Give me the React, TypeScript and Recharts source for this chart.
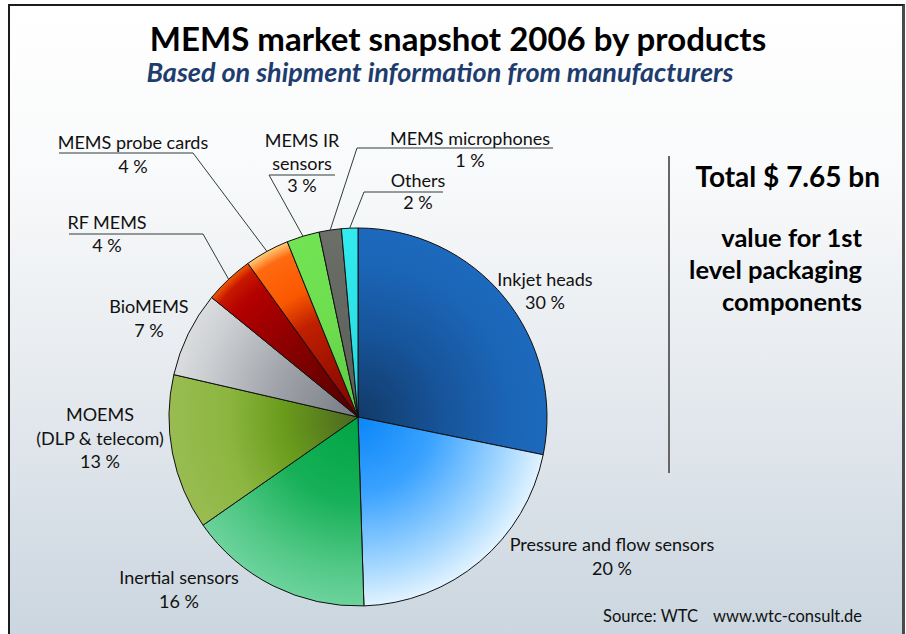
import { Cell, Pie, PieChart } from 'recharts'

const categories = [
  'Inkjet heads',
  'Pressure and flow sensors',
  'Inertial sensors',
  'MOEMS\n(DLP & telecom)',
  'BioMEMS',
  'RF MEMS',
  'MEMS probe cards',
  'MEMS IR\nsensors',
  'MEMS microphones',
  'Others',
]
// slice sizes as drawn in the picture (percent)
const shares = [28.2, 21.3, 15.8, 13.3, 7.3, 4.2, 3.8, 2.8, 1.9, 1.4]
const shareLabels = ['30 %', '20 %', '16 %', '13 %', '7 %', '4 %', '4 %', '3 %', '1 %', '2 %']

const data = categories.map((name, i) => ({ name, value: shares[i] }))

const FONT = 'Lato, "Open Sans", sans-serif'
const CX = 358
const CY = 417
const R = 189

// label placement (layout only)
type Rule = { from: number; elbow: number; y: number }
const labelPos: Array<{ x: number; y: number; lh: number; rule?: Rule }> = [
  { x: 545, y: 286, lh: 23 },
  { x: 612, y: 551, lh: 24 },
  { x: 179, y: 584, lh: 24 },
  { x: 100, y: 421, lh: 23.5 },
  { x: 149, y: 313, lh: 24 },
  { x: 107, y: 229, lh: 23, rule: { from: 69, elbow: 203, y: 234 } },
  { x: 133, y: 149, lh: 24, rule: { from: 59, elbow: 193, y: 153 } },
  { x: 302, y: 147, lh: 22.5, rule: { from: 335, elbow: 269, y: 175 } },
  { x: 470, y: 145, lh: 22, rule: { from: 553, elbow: 357, y: 148 } },
  { x: 418, y: 187, lh: 22, rule: { from: 443, elbow: 364, y: 192 } },
]

const gradients: Array<{ id: string; stops: Array<[number, string]> }> = [
  { id: 'g0', stops: [[0, '#123a68'], [0.45, '#17549a'], [0.8, '#1b65b6'], [1, '#1d69bd']] },
  { id: 'g1', stops: [[0, '#0a86f8'], [0.4, '#3aa2ff'], [0.8, '#a6d8ff'], [1, '#e2f3ff']] },
  { id: 'g2', stops: [[0, '#00a444'], [0.45, '#16b058'], [0.8, '#52c886'], [1, '#6cd39c']] },
  { id: 'g3', stops: [[0, '#4a6620'], [0.4, '#6a9c1c'], [0.7, '#8cb640'], [1, '#99bc52']] },
  { id: 'g4', stops: [[0, '#767a82'], [0.5, '#a4a7ad'], [0.85, '#cdd0d3'], [1, '#dadcde']] },
  { id: 'g5', stops: [[0, '#4e0000'], [0.55, '#8e0000'], [0.85, '#b40000'], [0.95, '#c81800'], [1, '#f05a00']] },
  { id: 'g6', stops: [[0, '#7a0000'], [0.55, '#c02000'], [0.72, '#fa5800'], [0.93, '#ff6a10'], [1, '#ffcc7a']] },
  { id: 'g7', stops: [[0, '#5cc840'], [0.5, '#6ddd4e'], [1, '#72e454']] },
  { id: 'g8', stops: [[0, '#5a5e58'], [1, '#6b6f68']] },
  { id: 'g9', stops: [[0, '#24d8de'], [1, '#33ebee']] },
]

const renderLabel = (props: any) => {
  const { cx, cy, midAngle, outerRadius } = props
  const index = props.index ?? categories.indexOf(props.name)
  const pos = labelPos[index]
  if (!pos) return null
  const lines = [...categories[index].split('\n'), shareLabels[index]]
  let leader = null
  if (pos.rule) {
    const rad = Math.PI / 180
    const ax = cx + outerRadius * Math.cos(-midAngle * rad)
    const ay = cy + outerRadius * Math.sin(-midAngle * rad)
    leader = (
      <polyline
        points={`${pos.rule.from},${pos.rule.y} ${pos.rule.elbow},${pos.rule.y} ${ax},${ay}`}
        fill="none"
        stroke="#2e3d3a"
        strokeWidth={1}
      />
    )
  }
  return (
    <g key={`lbl-${index}`}>
      {leader}
      <text x={pos.x} y={pos.y} textAnchor="middle" fontFamily={FONT} fontSize={18} fill="#111">
        {lines.map((t, i) => (
          <tspan key={i} x={pos.x} y={pos.y + i * pos.lh}>
            {t}
          </tspan>
        ))}
      </text>
    </g>
  )
}

export default function App() {
  return (
    <div style={{ position: 'absolute', left: 0, top: 0, width: 906, height: 634, overflow: 'hidden', background: '#fff' }}>
      <div
        style={{
          position: 'absolute',
          left: 8,
          top: 4,
          width: 892,
          height: 640,
          borderTop: '2px solid #1c1c1c',
          borderLeft: '2px solid #1c1c1c',
          borderRight: '3px solid #4a4a4a',
          background: 'linear-gradient(to bottom, #ffffff 0%, #f9fafb 25%, #e8ecf0 55%, #cad5df 100%)',
        }}
      />
      <div style={{ position: 'absolute', left: 0, top: 0 }}>
        <PieChart width={906} height={634} margin={{ top: 0, right: 0, bottom: 0, left: 0 }}>
          <defs>
            {gradients.map((g) => (
              <radialGradient key={g.id} id={g.id} gradientUnits="userSpaceOnUse" cx={CX} cy={CY} r={R}>
                {g.stops.map(([o, c]) => (
                  <stop key={o} offset={`${o * 100}%`} stopColor={c} />
                ))}
              </radialGradient>
            ))}
          </defs>
          <Pie
            data={data}
            dataKey="value"
            nameKey="name"
            cx={CX}
            cy={CY}
            outerRadius={R}
            startAngle={90}
            endAngle={-270}
            stroke="#111"
            strokeWidth={1}
            label={renderLabel}
            labelLine={false}
            isAnimationActive={false}
          >
            {data.map((d, i) => (
              <Cell key={d.name} fill={`url(#g${i})`} stroke="#111" strokeWidth={1} />
            ))}
          </Pie>
        </PieChart>
      </div>
      <svg width={906} height={634} style={{ position: 'absolute', left: 0, top: 0, pointerEvents: 'none' }}>
        <text x={458} y={51} textAnchor="middle" fontFamily={FONT} fontWeight={700} fontSize={33} fill="#000">
          MEMS market snapshot 2006 by products
        </text>
        <text x={440} y={82} textAnchor="middle" fontFamily={FONT} fontWeight={700} fontStyle="italic" fontSize={27} fill="#1e3c6e">
          Based on shipment information from manufacturers
        </text>
        <line x1={669} y1={156} x2={669} y2={473} stroke="#666" strokeWidth={2} />
        <text x={880} y={187} textAnchor="end" fontFamily={FONT} fontWeight={700} fontSize={28} fill="#000">
          Total $ 7.65 bn
        </text>
        <text textAnchor="end" fontFamily={FONT} fontWeight={700} fontSize={25.5} fill="#000">
          <tspan x={862} y={247}>value for 1st</tspan>
          <tspan x={862} y={279}>level packaging</tspan>
          <tspan x={862} y={311}>components</tspan>
        </text>
        <text x={603} y={622} fontFamily={FONT} fontSize={16.5} fill="#111">
          Source: WTC
        </text>
        <text x={713} y={622} fontFamily={FONT} fontSize={16.5} fill="#111">
          www.wtc-consult.de
        </text>
      </svg>
    </div>
  )
}
